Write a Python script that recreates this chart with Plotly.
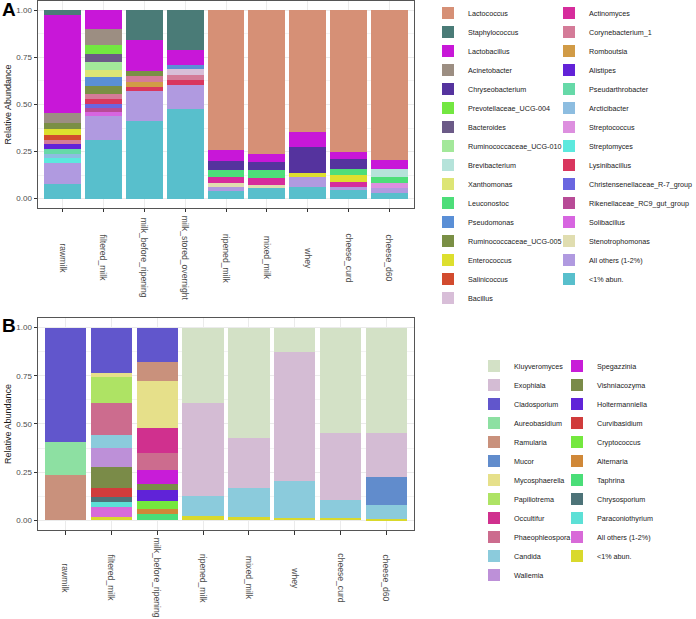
import plotly.graph_objects as go

# ---------------- Panel A (bacteria) ----------------
samples_a = ["rawmilk", "filtered_milk", "milk_before_ripening", "milk_stored_overnight",
             "ripened_milk", "mixed_milk", "whey", "cheese_curd", "cheese_d60"]

lactococcus = [0, 0, 0, 0, 0.742, 0.763, 0.648, 0.753, 0.797]
staphylococcus = [0.028, 0, 0.156, 0.210, 0, 0, 0, 0, 0]
lactobacillus = [0.518, 0.099, 0.166, 0.080, 0.057, 0.041, 0.078, 0.035, 0.048]
acinetobacter = [0.055, 0.088, 0, 0, 0, 0, 0, 0, 0]
chryseobacterium = [0, 0, 0, 0, 0.051, 0.046, 0.136, 0.055, 0]
prevotellaceae_ucg004 = [0, 0.046, 0, 0, 0, 0, 0, 0, 0]
bacteroides = [0, 0.044, 0, 0, 0, 0, 0, 0, 0]
ruminococcaceae_ucg010 = [0, 0.041, 0, 0, 0, 0, 0, 0, 0]
brevibacterium = [0, 0, 0, 0, 0, 0, 0, 0, 0.041]
xanthomonas = [0, 0.039, 0, 0, 0, 0, 0, 0, 0]
leuconostoc = [0, 0, 0, 0, 0.037, 0.041, 0, 0.030, 0.032]
pseudomonas = [0, 0.048, 0, 0.023, 0, 0, 0, 0, 0]
ruminococcaceae_ucg005 = [0.030, 0.039, 0.028, 0, 0, 0, 0, 0, 0]
enterococcus = [0.030, 0, 0, 0, 0, 0, 0.025, 0.037, 0]
salinicoccus = [0.027, 0, 0, 0, 0, 0, 0, 0, 0]
bacillus = [0, 0, 0, 0.032, 0, 0, 0, 0, 0]
actinomyces = [0, 0, 0, 0, 0.028, 0.035, 0, 0.030, 0]
corynebacterium_1 = [0.021, 0.027, 0.032, 0.027, 0, 0, 0, 0, 0]
romboutsia = [0, 0, 0.027, 0, 0, 0, 0, 0, 0]
alistipes = [0.028, 0, 0, 0, 0, 0, 0, 0, 0]
pseudarthrobacter = [0.025, 0, 0, 0, 0, 0, 0, 0, 0]
arcticibacter = [0.023, 0, 0, 0, 0, 0, 0, 0, 0]
streptococcus = [0, 0, 0, 0, 0, 0, 0, 0, 0.025]
streptomyces = [0.027, 0, 0, 0, 0, 0, 0, 0, 0]
lysinibacillus = [0, 0.025, 0.021, 0.025, 0, 0, 0, 0, 0]
christensenellaceae = [0, 0.021, 0, 0, 0, 0, 0, 0, 0]
rikenellaceae = [0, 0.023, 0, 0, 0, 0, 0, 0, 0]
solibacillus = [0, 0.021, 0, 0, 0, 0, 0, 0, 0]
stenotrophomonas = [0, 0, 0, 0, 0.021, 0.019, 0, 0, 0]
others_a = [0.111, 0.127, 0.161, 0.131, 0.025, 0, 0.053, 0.016, 0.027]
low_a = [0.078, 0.313, 0.410, 0.474, 0.039, 0.055, 0.060, 0.044, 0.030]

# legend order (top of stack first)
taxa_a = [
    ("Lactococcus", lactococcus), ("Staphylococcus", staphylococcus),
    ("Lactobacillus", lactobacillus), ("Acinetobacter", acinetobacter),
    ("Chryseobacterium", chryseobacterium), ("Prevotellaceae_UCG-004", prevotellaceae_ucg004),
    ("Bacteroides", bacteroides), ("Ruminococcaceae_UCG-010", ruminococcaceae_ucg010),
    ("Brevibacterium", brevibacterium), ("Xanthomonas", xanthomonas),
    ("Leuconostoc", leuconostoc), ("Pseudomonas", pseudomonas),
    ("Ruminococcaceae_UCG-005", ruminococcaceae_ucg005), ("Enterococcus", enterococcus),
    ("Salinicoccus", salinicoccus), ("Bacillus", bacillus),
    ("Actinomyces", actinomyces), ("Corynebacterium_1", corynebacterium_1),
    ("Romboutsia", romboutsia), ("Alistipes", alistipes),
    ("Pseudarthrobacter", pseudarthrobacter), ("Arcticibacter", arcticibacter),
    ("Streptococcus", streptococcus), ("Streptomyces", streptomyces),
    ("Lysinibacillus", lysinibacillus), ("Christensenellaceae_R-7_group", christensenellaceae),
    ("Rikenellaceae_RC9_gut_group", rikenellaceae), ("Solibacillus", solibacillus),
    ("Stenotrophomonas", stenotrophomonas), ("All others (1-2%)", others_a),
    ("<1% abun.", low_a),
]
colors_a = ["#D69076", "#4A7B77", "#C817D8", "#9C8E82", "#55339E", "#73E741", "#6B5A87",
            "#A3E89A", "#B5E3DA", "#DDE575", "#4DDE79", "#5A8FD6", "#7A8F45", "#DDDF2E",
            "#D24B2E", "#D8BED8", "#D62C9C", "#D47B98", "#D19B46", "#6222D8", "#66D9A8",
            "#8DBDE0", "#DD8FDF", "#5CE9DE", "#D9365E", "#6A66E0", "#B84B97", "#D765E0",
            "#E0DDB0", "#B09AE0", "#58BFCC"]
split_a = 16  # first legend column size

# ---------------- Panel B (fungi) ----------------
samples_b = ["rawmilk", "filtered_milk", "milk_before_ripening", "ripened_milk",
             "mixed_milk", "whey", "cheese_curd", "cheese_d60"]

kluyveromyces = [0, 0, 0, 0.390, 0.573, 0.124, 0.549, 0.549]
exophiala = [0, 0, 0, 0.485, 0.261, 0.674, 0.347, 0.226]
cladosporium = [0.596, 0.234, 0.176, 0, 0, 0, 0, 0]
aureobasidium = [0.171, 0, 0, 0, 0, 0, 0, 0]
ramularia = [0.233, 0, 0.102, 0, 0, 0, 0, 0]
mucor = [0, 0, 0, 0, 0, 0, 0, 0.147]
mycosphaerella = [0, 0.024, 0.245, 0, 0, 0, 0, 0]
papiliotrema = [0, 0.133, 0, 0, 0, 0, 0, 0]
occultifur = [0, 0, 0.130, 0, 0, 0, 0, 0]
phaeophleospora = [0, 0.168, 0.085, 0, 0, 0, 0, 0]
candida = [0, 0.066, 0, 0.104, 0.147, 0.190, 0.090, 0.071]
wallemia = [0, 0.100, 0, 0, 0, 0, 0, 0]
spegazzinia = [0, 0, 0.074, 0, 0, 0, 0, 0]
vishniacozyma = [0, 0.107, 0.028, 0, 0, 0, 0, 0]
holtermanniella = [0, 0, 0.060, 0, 0, 0, 0, 0]
curvibasidium = [0, 0.048, 0, 0, 0, 0, 0, 0]
cryptococcus = [0, 0, 0.041, 0, 0, 0, 0, 0]
alternaria = [0, 0, 0.028, 0, 0, 0, 0, 0]
taphrina = [0, 0, 0.031, 0, 0, 0, 0, 0]
chrysosporium = [0, 0.026, 0, 0, 0, 0, 0, 0]
paraconiothyrium = [0, 0.026, 0, 0, 0, 0, 0, 0]
others_b = [0, 0.052, 0, 0, 0, 0, 0, 0]
low_b = [0, 0.016, 0, 0.021, 0.019, 0.012, 0.014, 0.007]

taxa_b = [
    ("Kluyveromyces", kluyveromyces), ("Exophiala", exophiala),
    ("Cladosporium", cladosporium), ("Aureobasidium", aureobasidium),
    ("Ramularia", ramularia), ("Mucor", mucor),
    ("Mycosphaerella", mycosphaerella), ("Papiliotrema", papiliotrema),
    ("Occultifur", occultifur), ("Phaeophleospora", phaeophleospora),
    ("Candida", candida), ("Wallemia", wallemia),
    ("Spegazzinia", spegazzinia), ("Vishniacozyma", vishniacozyma),
    ("Holtermanniella", holtermanniella), ("Curvibasidium", curvibasidium),
    ("Cryptococcus", cryptococcus), ("Alternaria", alternaria),
    ("Taphrina", taphrina), ("Chrysosporium", chrysosporium),
    ("Paraconiothyrium", paraconiothyrium), ("All others (1-2%)", others_b),
    ("<1% abun.", low_b),
]
colors_b = ["#D3E1C6", "#D4BCD4", "#6156CC", "#8DE0A2", "#C9917C", "#618CCC", "#E6E08A",
            "#AEE364", "#D0308E", "#CC6C8E", "#8BCBDC", "#BD90D8", "#C81CD8", "#7A8B48",
            "#6023D8", "#D03C3C", "#74E83E", "#D08838", "#4ADE78", "#4D7378", "#5CE0D6",
            "#D86AD8", "#D9D92C"]
split_b = 12

y_tick_vals = [0, 0.25, 0.5, 0.75, 1.0]
y_tick_text = ["0.00", "0.25", "0.50", "0.75", "1.00"]

fig = go.Figure()

# add from bottom of stack to top
for i in range(len(taxa_a) - 1, -1, -1):
    name, vals = taxa_a[i]
    fig.add_trace(go.Bar(x=samples_a, y=vals, name=name, marker_color=colors_a[i],
                         marker_line_width=0, xaxis="x", yaxis="y",
                         legend="legend" if i < split_a else "legend2"))
for i in range(len(taxa_b) - 1, -1, -1):
    name, vals = taxa_b[i]
    fig.add_trace(go.Bar(x=samples_b, y=vals, name=name, marker_color=colors_b[i],
                         marker_line_width=0, xaxis="x2", yaxis="y2",
                         legend="legend3" if i < split_b else "legend4"))

font_fam = "Liberation Sans, Arial, sans-serif"
axis_common = dict(showline=True, linecolor="#555555", linewidth=1, mirror=True,
                   ticks="outside", ticklen=3.5, tickwidth=1, tickcolor="#333333",
                   showgrid=True, gridcolor="#EBEBEB", gridwidth=1, zeroline=False)

def yax(domain, anchor):
    return dict(domain=domain, anchor=anchor, range=[-0.05, 1.05],
                tickvals=y_tick_vals, ticktext=y_tick_text,
                tickfont=dict(size=8, color="#4D4D4D"),
                title=dict(text="Relative Abundance", font=dict(size=9, color="#1A1A1A"),
                           standoff=3),
                minor=dict(tickvals=[0.125, 0.375, 0.625, 0.875], showgrid=True,
                           gridcolor="#F3F3F3", gridwidth=0.6, ticks=""),
                **axis_common)

def xax(cats, domain, anchor):
    return dict(domain=domain, anchor=anchor, type="category", categoryorder="array",
                categoryarray=cats, range=[-0.6, len(cats) - 0.4],
                showticklabels=False, **axis_common)

legend_common = dict(orientation="v", xanchor="left", yanchor="top",
                     bgcolor="rgba(0,0,0,0)", traceorder="reversed", maxheight=1000,
                     font=dict(size=7.2, color="#1A1A1A", family=font_fam),
                     tracegroupgap=0, itemclick=False)

annotations = []
for s in samples_a:
    annotations.append(dict(x=s, y=0.5142, xref="x", yref="paper", text=s, textangle=90,
                            showarrow=False, xanchor="center", yanchor="middle",
                            font=dict(size=8.6, color="#4D4D4D")))
for s in samples_b:
    annotations.append(dict(x=s, y=-0.0907, xref="x2", yref="paper", text=s, textangle=90,
                            showarrow=False, xanchor="center", yanchor="middle",
                            font=dict(size=8.6, color="#4D4D4D")))
annotations.append(dict(x=-38 / 376, y=1 + 4 / 529, xref="paper", yref="paper",
                        text="<b>A</b>", showarrow=False, xanchor="left", yanchor="top",
                        font=dict(size=19, color="black")))
annotations.append(dict(x=-38 / 376, y=(530 - 313) / 529, xref="paper", yref="paper",
                        text="<b>B</b>", showarrow=False, xanchor="left", yanchor="top",
                        font=dict(size=19, color="black")))

fig.update_layout(
    width=696, height=619,
    margin=dict(l=38, r=282, t=1, b=89, autoexpand=False),
    barmode="stack", bargap=0.1,
    plot_bgcolor="white", paper_bgcolor="white",
    font=dict(family=font_fam, size=9, color="#4D4D4D"),
    xaxis=xax(samples_a, [0, 1], "y"),
    yaxis=yax([0.6087, 1.0], "x"),
    xaxis2=xax(samples_b, [0, 1], "y2"),
    yaxis2=yax([0.0, 0.4008], "x2"),
    legend=dict(x=(428 - 38) / 376, y=(530 + 1.5) / 529, **legend_common),
    legend2=dict(x=(549 - 38) / 376, y=(530 + 1.5) / 529, **legend_common),
    legend3=dict(x=(474 - 38) / 376, y=(530 - 351.5) / 529, **legend_common),
    legend4=dict(x=(557 - 38) / 376, y=(530 - 351.5) / 529, **legend_common),
    annotations=annotations,
    showlegend=True,
)

fig.write_html("out.html", config={"displayModeBar": False},
               post_script="document.body.style.margin='0';document.body.style.padding='0';")
